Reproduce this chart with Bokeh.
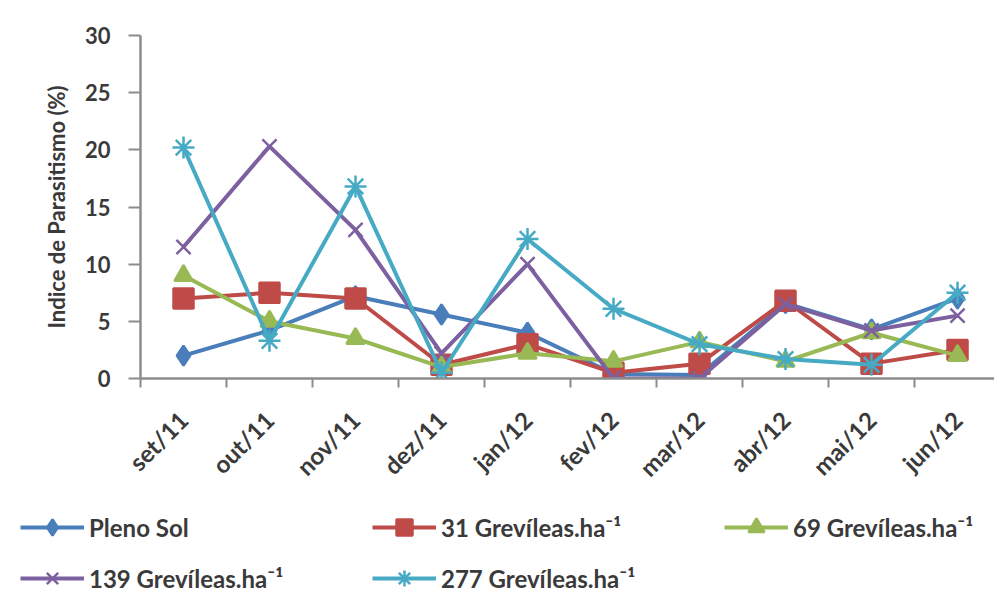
import math
from bokeh.plotting import figure
from bokeh.models import Range1d, FixedTicker, Legend, LegendItem
from bokeh.embed import file_html
from bokeh.resources import INLINE

months = ["set/11", "out/11", "nov/11", "dez/11", "jan/12", "fev/12", "mar/12", "abr/12", "mai/12", "jun/12"]
pleno_sol = [2.0, 4.2, 7.2, 5.6, 4.0, 0.4, 0.3, 6.6, 4.3, 7.0]
grev_31 = [7.0, 7.5, 7.0, 1.2, 3.0, 0.5, 1.3, 6.8, 1.3, 2.5]
grev_69 = [9.0, 5.0, 3.5, 1.0, 2.2, 1.5, 3.2, 1.5, 4.0, 2.0]
grev_139 = [11.5, 20.3, 13.0, 2.2, 10.0, 0.0, 0.0, 6.5, 4.2, 5.5]
grev_277 = [20.2, 3.3, 16.8, 0.5, 12.2, 6.1, 3.0, 1.7, 1.2, 7.5]
series_names = ["Pleno Sol", "31 Grevíleas.ha⁻¹", "69 Grevíleas.ha⁻¹", "139 Grevíleas.ha⁻¹", "277 Grevíleas.ha⁻¹"]
y_ticks = [0, 5, 10, 15, 20, 25, 30]

FONT = "Lato"
TXT = "#3a3a3a"
AX = "#8c8c8c"
W = 994

p = figure(width=W, height=495, output_backend="svg", toolbar_location=None,
           x_range=Range1d(-0.5, 9.43), y_range=Range1d(0, 30),
           min_border_left=140, min_border_right=0, min_border_top=35, min_border_bottom=117)
p.outline_line_color = None
p.xgrid.visible = False
p.ygrid.visible = False

xs = list(range(len(months)))

p.xaxis.ticker = FixedTicker(ticks=xs, minor_ticks=[k - 0.5 for k in range(len(months) + 1)])
p.xaxis.major_label_overrides = {i: m for i, m in enumerate(months)}
p.xaxis.major_label_orientation = math.pi / 4
p.xaxis.major_tick_line_color = None
p.xaxis.minor_tick_in = 0
p.xaxis.minor_tick_out = 9
p.xaxis.minor_tick_line_color = AX
p.xaxis.minor_tick_line_width = 2
p.xaxis.axis_line_color = AX
p.xaxis.axis_line_width = 2.5
p.xaxis.major_label_standoff = 28

p.yaxis.ticker = FixedTicker(ticks=y_ticks)
p.yaxis.minor_tick_line_color = None
p.yaxis.major_tick_in = 0
p.yaxis.major_tick_out = 12
p.yaxis.major_tick_line_color = AX
p.yaxis.major_tick_line_width = 2
p.yaxis.axis_line_color = AX
p.yaxis.axis_line_width = 2.5
p.yaxis.major_label_standoff = 18
p.yaxis.axis_label = "Indice de Parasitismo (%)"
p.yaxis.axis_label_standoff = 12
p.yaxis.axis_label_text_font = FONT
p.yaxis.axis_label_text_font_size = "22px"
p.yaxis.axis_label_text_font_style = "bold"
p.yaxis.axis_label_text_color = TXT

p.xaxis.major_label_text_font_size = "24px"
p.yaxis.major_label_text_font_size = "22px"
for ax in (p.xaxis, p.yaxis):
    ax.major_label_text_font = FONT
    ax.major_label_text_font_style = "bold"
    ax.major_label_text_color = TXT

colors = ["#4a7ebb", "#be4b48", "#98b954", "#7d60a0", "#46aac5"]
markers = ["diamond", "square", "triangle", "x", "asterisk"]
sizes = [20, 20, 18, 20, 22]
data = [pleno_sol, grev_31, grev_69, grev_139, grev_277]

for ys, c, m, s in zip(data, colors, markers, sizes):
    p.line(xs, ys, line_color=c, line_width=4)
    p.scatter(xs, ys, marker=m, size=s, fill_color=c, line_color=c, line_width=2.5)

# legend panel below the chart (separate root so its frame starts at the left edge)
lg = figure(width=W, height=105, output_backend="svg", toolbar_location=None,
            x_axis_location=None, y_axis_location=None,
            x_range=Range1d(100, 101), y_range=Range1d(100, 101),
            min_border_left=0, min_border_right=0, min_border_top=0, min_border_bottom=0)
lg.outline_line_color = None
lg.xgrid.visible = False
lg.ygrid.visible = False

items = []
for name, ys, c, m, s in zip(series_names, data, colors, markers, sizes):
    r1 = lg.line(xs, ys, line_color=c, line_width=4)
    r2 = lg.scatter(xs, ys, marker=m, size=s, fill_color=c, line_color=c, line_width=2.5)
    items.append(LegendItem(label=name, renderers=[r1, r2]))

# column-major fill: order so rows read Pleno Sol, 31, 69 / 139, 277
order = [0, 3, 1, 4, 2]
legend = Legend(items=[items[i] for i in order], ncols=3, location=(20, 2),
                spacing=11, glyph_width=64, glyph_height=40, label_height=40,
                label_width=272, label_standoff=5, padding=0, margin=0,
                border_line_color=None, background_fill_alpha=0,
                label_text_font=FONT, label_text_font_size="24px",
                label_text_font_style="bold", label_text_color=TXT)
lg.add_layout(legend, "center")

open("out.html", "w").write(file_html([p, lg], INLINE))
